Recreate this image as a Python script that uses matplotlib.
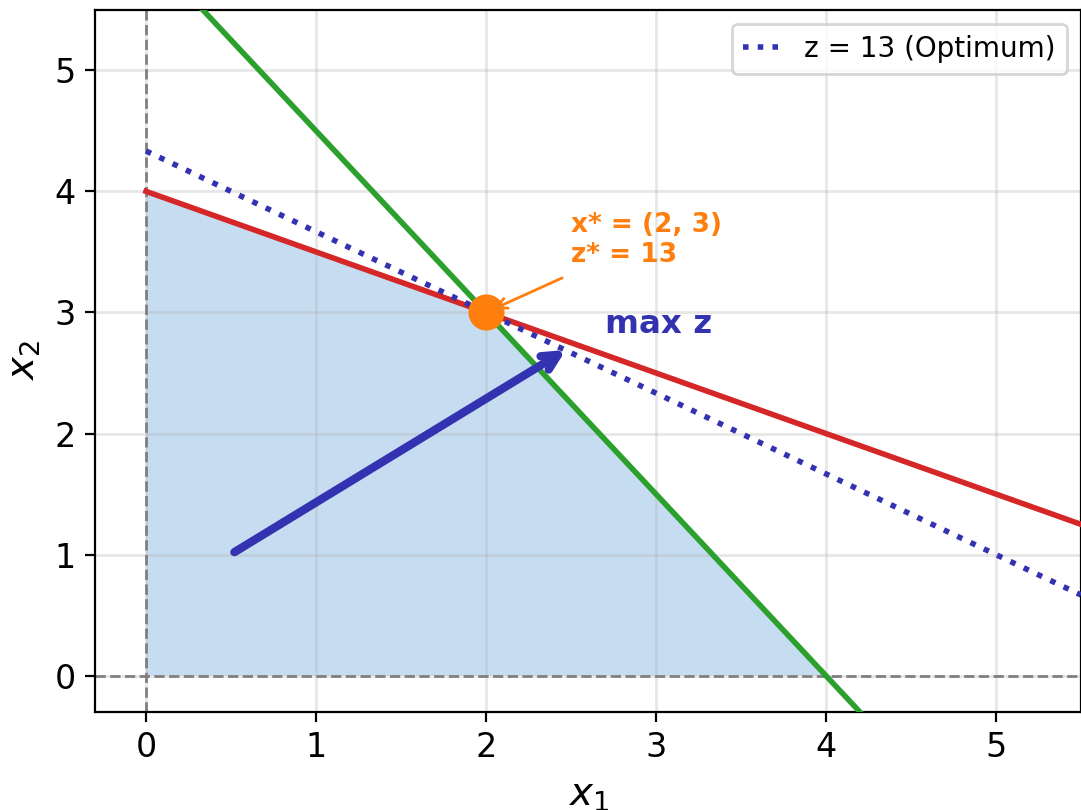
import numpy as np
import matplotlib
matplotlib.use("Agg")
import matplotlib.pyplot as plt

# Constraint coefficients: a1*x1 + a2*x2 <= b
c1 = (1, 2, 8)     # red
c2 = (3, 2, 12)    # green
obj = (2, 3)       # z = 2 x1 + 3 x2
z_opt = 13
x_opt = (2, 3)
feasible_x = [0, 0, 2, 4]
feasible_y = [0, 4, 3, 0]
arrow_start = (0.52, 1.02)
arrow_end = (2.47, 2.69)

fig = plt.figure(figsize=(5.405, 4.05), dpi=200)
ax = fig.add_axes([0.0879, 0.121, 0.912, 0.867])

x = np.linspace(0, 5.5, 200)
ax.fill(feasible_x, feasible_y, color="#c6dcf1", zorder=1, lw=0)
ax.axhline(0, color="gray", ls="--", lw=1, zorder=2)
ax.axvline(0, color="gray", ls="--", lw=1, zorder=2)
ax.plot(x, (c1[2] - c1[0] * x) / c1[1], color="#d62728", lw=2.0, zorder=3)
ax.plot(x, (c2[2] - c2[0] * x) / c2[1], color="#2ca02c", lw=2.0, zorder=3)
ax.plot(x, (z_opt - obj[0] * x) / obj[1], color="#3333b2", lw=2, ls=":",
        zorder=4, label=f"z = {z_opt} (Optimum)")

ax.annotate("", xy=arrow_end, xytext=arrow_start,
            arrowprops=dict(arrowstyle="->", color="#3333b2", lw=3,
                            mutation_scale=14, shrinkA=0, shrinkB=0),
            zorder=5)
ax.text(2.7, 2.9, "max z", color="#3333b2", fontsize=11.7, fontweight="bold",
        va="center", ha="left")

ax.plot([x_opt[0]], [x_opt[1]], "o", color="#ff7f0e", markersize=12, zorder=6)
ax.annotate(f"x* = ({x_opt[0]}, {x_opt[1]})\nz* = {z_opt}", xy=x_opt,
            xytext=(2.5, 3.6), color="#ff7f0e", fontsize=9.5, fontweight="bold",
            va="center", ha="left",
            arrowprops=dict(arrowstyle="->", color="#ff7f0e", lw=1.0,
                            shrinkA=4, shrinkB=3))

ax.set_xlim(-0.3, 5.5)
ax.set_ylim(-0.3, 5.5)
ax.set_xticks([0, 1, 2, 3, 4, 5])
ax.set_yticks([0, 1, 2, 3, 4, 5])
ax.tick_params(labelsize=12)
ax.set_xlabel("$x_1$", fontsize=14)
ax.set_ylabel("$x_2$", fontsize=14)
ax.grid(True, color="#b0b0b0", alpha=0.3, lw=1)
ax.legend(loc="upper right", fontsize=10, handlelength=1.4)

fig.savefig("out.png", dpi=200)
